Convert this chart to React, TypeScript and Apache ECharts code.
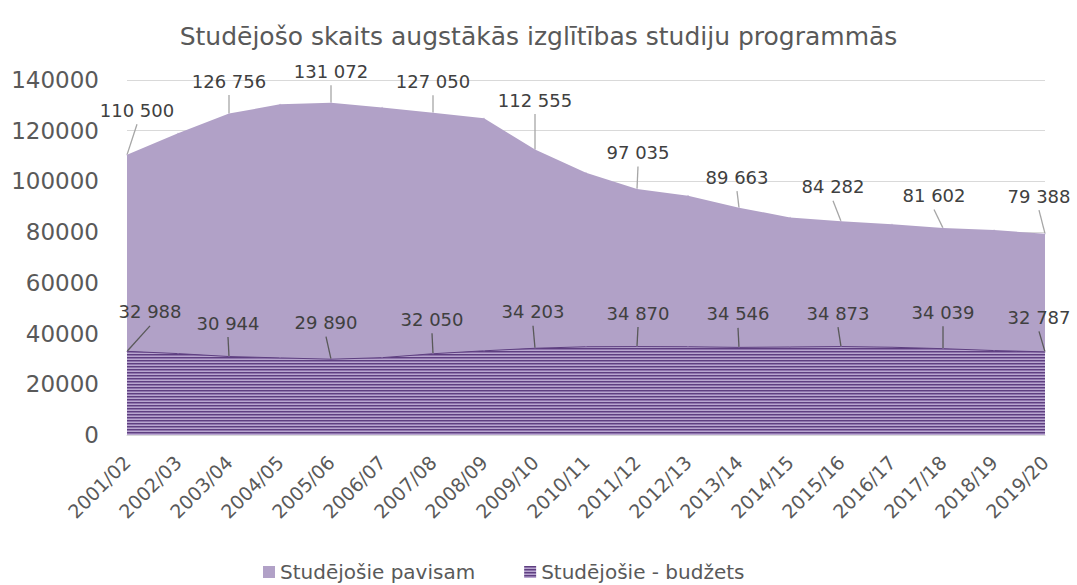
import React, { useEffect, useRef } from 'react';
import * as echarts from 'echarts';

const categories = [
  '2001/02', '2002/03', '2003/04', '2004/05', '2005/06', '2006/07', '2007/08',
  '2008/09', '2009/10', '2010/11', '2011/12', '2012/13', '2013/14', '2014/15',
  '2015/16', '2016/17', '2017/18', '2018/19', '2019/20',
];

const totalStudents = [
  110500, 119000, 126756, 130400, 131072, 129200, 127050, 124900, 112555, 103400,
  97035, 94400, 89663, 85800, 84282, 83100, 81602, 80800, 79388,
];

const budgetStudents = [
  32988, 32100, 30944, 30400, 29890, 30500, 32050, 33200, 34203, 34800,
  34870, 34800, 34546, 34700, 34873, 34600, 34039, 33300, 32787,
];

const yTicks = { min: 0, max: 140000, interval: 20000 };

const seriesNames = ['Studējošie pavisam', 'Studējošie - budžets'];
const titleText = 'Studējošo skaits augstākās izglītības studiju programmās';

// label offsets (dx, centre dy) relative to data point, for labelled points
const totalLabelOffsets: Record<number, [number, number]> = {
  0: [10, -44], 2: [0, -32], 4: [0, -31], 6: [0, -31], 8: [0, -49],
  10: [1, -36], 12: [-2, -30], 14: [-8, -34], 16: [-9, -32], 18: [-6, -37],
};
const budgetLabelOffsets: Record<number, [number, number]> = {
  0: [23, -39], 2: [-1, -33], 4: [-5, -36], 6: [-1, -34], 8: [-2, -36],
  10: [1, -33], 12: [-1, -33], 14: [-3, -33], 16: [0, -36], 18: [-6, -34],
};

const FONT = 'DejaVu Sans';

function fmt(v: number) {
  return String(v).replace(/\B(?=(\d{3})+(?!\d))/g, ' ');
}

function makeStripe(): string {
  const c = document.createElement('canvas');
  c.width = 3;
  c.height = 3;
  const ctx = c.getContext('2d')!;
  const rows = ['#5e3f80', '#8f74ad', '#b8a6cf'];
  rows.forEach((col, i) => {
    ctx.fillStyle = col;
    ctx.fillRect(0, i, 3, 1);
  });
  return c.toDataURL();
}

export default function App() {
  const ref = useRef<HTMLDivElement>(null);

  useEffect(() => {
    if (!ref.current) return;
    const chart = echarts.init(ref.current, undefined, { renderer: 'svg' });
    const stripe = { image: makeStripe(), repeat: 'repeat', imageWidth: 3, imageHeight: 3 } as any;

    const LABEL_BASE = 14;
    const mkData = (vals: number[], offs: Record<number, [number, number]>) =>
      vals.map((v, i) => ({ value: v, label: { show: offs[i] !== undefined } }));

    const labelCommon = {
      position: 'top',
      distance: 0,
      fontSize: 18,
      lineHeight: 20,
      padding: [0, 0, 4, 0],
      color: '#404040',
      fontFamily: FONT,
      formatter: (p: any) => fmt(p.value),
    };

    chart.setOption({
      animation: false,
      backgroundColor: '#ffffff',
      title: {
        text: titleText,
        left: 'center',
        top: 19,
        textStyle: { fontSize: 25, fontWeight: 'normal', color: '#595959', fontFamily: FONT },
      },
      legend: {
        data: seriesNames,
        left: 258,
        top: 557,
        itemWidth: 12,
        itemHeight: 12,
        itemGap: 49,
        icon: 'rect',
        textStyle: { fontSize: 20, color: '#595959', fontFamily: FONT },
      },
      grid: { left: 127, right: 32, top: 80, bottom: 150, containLabel: false },
      xAxis: {
        type: 'category',
        data: categories,
        boundaryGap: false,
        axisLine: { show: true, lineStyle: { color: '#d9d9d9', width: 1 } },
        axisTick: { show: false },
        axisLabel: { rotate: 45, fontSize: 19, color: '#595959', fontFamily: FONT, margin: 24, interval: 0 },
      },
      yAxis: {
        type: 'value',
        min: yTicks.min,
        max: yTicks.max,
        interval: yTicks.interval,
        axisLine: { show: false },
        axisTick: { show: false },
        splitLine: { lineStyle: { color: '#d9d9d9', width: 1 } },
        axisLabel: { fontSize: 23, color: '#595959', fontFamily: FONT, margin: 28, formatter: (v: number) => String(v) },
      },
      series: [
        {
          name: seriesNames[0],
          type: 'line',
          data: mkData(totalStudents, totalLabelOffsets),
          symbol: 'circle',
          symbolSize: 1,
          showSymbol: true,
          itemStyle: { color: '#b1a1c7' },
          lineStyle: { width: 0, color: '#b1a1c7' },
          areaStyle: { color: '#b1a1c7', opacity: 1 },
          label: { ...labelCommon },
          labelLine: { show: true, lineStyle: { color: '#a6a6a6', width: 1.3 } },
          labelLayout: (p: any) => {
            const o = totalLabelOffsets[p.dataIndex];
            if (!o) return {};
            return { dx: o[0], dy: o[1] + LABEL_BASE };
          },
          z: 2,
        },
        {
          name: seriesNames[1],
          type: 'line',
          data: mkData(budgetStudents, budgetLabelOffsets),
          symbol: 'circle',
          symbolSize: 1,
          showSymbol: true,
          itemStyle: { color: stripe },
          lineStyle: { width: 1, color: '#5e3f80' },
          areaStyle: { color: stripe, opacity: 1 },
          label: { ...labelCommon },
          labelLine: { show: true, lineStyle: { color: '#595959', width: 1.3 } },
          labelLayout: (p: any) => {
            const o = budgetLabelOffsets[p.dataIndex];
            if (!o) return {};
            return { dx: o[0], dy: o[1] + LABEL_BASE };
          },
          z: 3,
        },
      ],
    });
    return () => chart.dispose();
  }, []);

  return <div ref={ref} style={{ position: 'absolute', left: 0, top: 0, width: 1077, height: 585 }} />;
}
